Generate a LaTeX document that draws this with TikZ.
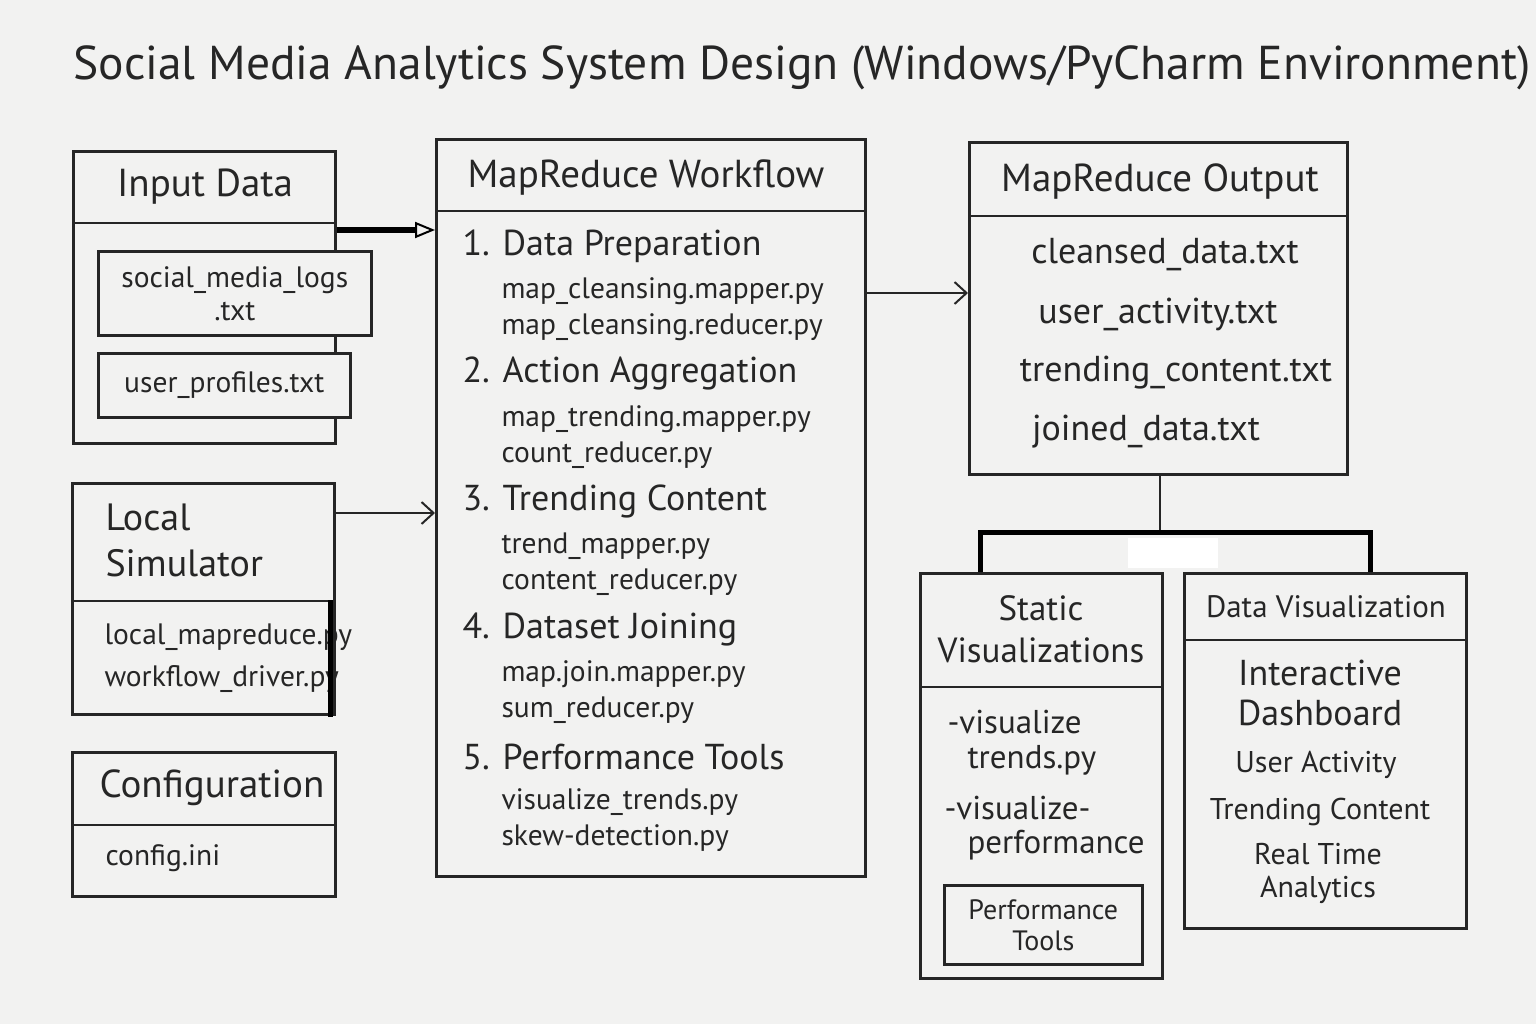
\documentclass[tikz,border=0pt]{standalone}
\usepackage{fontspec}
\setmainfont{PT Sans}
\usetikzlibrary{positioning,arrows.meta}
\definecolor{ink}{HTML}{262626}
\definecolor{paper}{HTML}{F2F2F1}

\begin{document}
\begin{tikzpicture}[
    x=1pt, y=-1pt,
    box/.style={draw=ink, line width=2.6pt, fill=paper, anchor=north west, inner sep=0pt},
    divider/.style={draw=ink, line width=2.6pt},
    titletext/.style={font=\fontsize{47.5}{52}\selectfont, text=ink},
    hdr/.style={font=\fontsize{39}{46}\selectfont, text=ink},
    stephead/.style={font=\fontsize{36}{40}\selectfont, text=ink, anchor=west},
    item/.style={font=\fontsize{29.5}{33}\selectfont, text=ink},
    bigitem/.style={font=\fontsize{36}{40}\selectfont, text=ink},
    arrow/.style={draw=ink, line width=2pt, -{Straight Barb[length=12pt, width=22pt]}},
    bigarrow/.style={draw=black, line width=6pt, -{Triangle[open, length=20pt, width=16pt, line width=2pt]}},
    heavy/.style={draw=black, line width=5pt}
    ]

    \fill[paper] (0,0) rectangle (1536,1024);
    \useasboundingbox (0,0) rectangle (1536,1024);

    % title:
    \node (title) at (802,68) [titletext] {Social Media Analytics System Design (Windows/PyCharm Environment)};

    % input data:
    \node (input) at (72,150) [box, minimum width=262pt, minimum height=292pt] {};
    \draw[divider] ([yshift=-73pt]input.north west) -- ([yshift=-73pt]input.north east);
    \node (inputhdr) at (205,187) [hdr] {Input Data};
    \node (logs) at (97,250) [box, item, align=center, minimum width=273pt, minimum height=84pt] {social\_media\_logs\\.txt};
    \node (profiles) at (97,352) [box, item, minimum width=252pt, minimum height=64pt] {user\_profiles.txt};

    % local simulator:
    \node (sim) at (71,482) [box, minimum width=262pt, minimum height=231pt] {};
    \draw[divider] ([yshift=-119pt]sim.north west) -- ([yshift=-119pt]sim.north east);
    \node (simhdr) at (102,540) [hdr, anchor=west, align=left, font=\fontsize{38}{46}\selectfont] {Local\\Simulator};
    \node (simfiles) at (101,658) [item, anchor=west, align=left, font=\fontsize{29.5}{42}\selectfont] {local\_mapreduce.py\\workflow\_driver.py};
    \draw[heavy] (330,600) -- (330,717);

    % configuration:
    \node (config) at (71,751) [box, minimum width=263pt, minimum height=144pt] {};
    \draw[divider] ([yshift=-74pt]config.north west) -- ([yshift=-74pt]config.north east);
    \node (confighdr) at (212,788) [hdr] {Configuration};
    \node (configfile) at (102,858) [item, anchor=west] {config.ini};

    % mapreduce workflow:
    \node (flow) at (435,138) [box, minimum width=429pt, minimum height=737pt] {};
    \draw[divider] ([yshift=-73pt]flow.north west) -- ([yshift=-73pt]flow.north east);
    \node (flowhdr) at (646,178) [hdr] {MapReduce Workflow};
    \foreach \head/\fa/\fb [count=\i from 0] in {
        Data Preparation/map\_cleansing.mapper.py/map\_cleansing.reducer.py,
        Action Aggregation/map\_trending.mapper.py/count\_reducer.py,
        Trending Content/trend\_mapper.py/content\_reducer.py,
        Dataset Joining/map.join.mapper.py/sum\_reducer.py,
        Performance Tools/visualize\_trends.py/skew-detection.py} {
      \pgfmathtruncatemacro{\n}{\i+1}
      \node (step\n) at (459, 246 + \i * 127.75) [stephead] {\n. \head};
      \node (step\n a) at (498, 291 + \i * 127.75) [item, anchor=west] {\fa};
      \node (step\n b) at (498, 327 + \i * 127.75) [item, anchor=west] {\fb};
    }

    % mapreduce output:
    \node (out) at (968,141) [box, minimum width=378pt, minimum height=332pt] {};
    \draw[divider] ([yshift=-75pt]out.north west) -- ([yshift=-75pt]out.north east);
    \node (outhdr) at (1160,182) [hdr] {MapReduce Output};
    \foreach \x/\y/\f [count=\i] in {1165/255/cleansed\_data.txt, 1158/314/user\_activity.txt,
        1176/373/trending\_content.txt, 1146/432/joined\_data.txt}
      \node (o\i) at (\x,\y) [bigitem] {\f};

    % static visualizations:
    \node (static) at (919,572) [box, minimum width=242pt, minimum height=405pt] {};
    \draw[divider] ([yshift=-115pt]static.north west) -- ([yshift=-115pt]static.north east);
    \node (statichdr) at (1041,629) [hdr, align=center, font=\fontsize{35}{42}\selectfont] {Static\\Visualizations};
    \foreach \x/\y/\t [count=\i] in {944/722/-visualize, 964/760/trends.py, 941/808/-visualize-, 964/845/performance}
      \node (s\i) at (\x,\y) [bigitem, anchor=west, font=\fontsize{33}{38}\selectfont] {\t};
    \node (perf) at (943,884) [box, item, align=center, minimum width=198pt, minimum height=79pt,
        font=\fontsize{28}{31}\selectfont] {Performance\\Tools};

    % data visualization:
    \node (dviz) at (1183,572) [box, minimum width=282pt, minimum height=355pt] {};
    \draw[divider] ([yshift=-68pt]dviz.north west) -- ([yshift=-68pt]dviz.north east);
    \node (dvizhdr) at (1326,607) [hdr, font=\fontsize{31}{36}\selectfont] {Data Visualization};
    \node (dash) at (1320,693) [hdr, align=center, font=\fontsize{36}{40}\selectfont] {Interactive\\Dashboard};
    \node (useract) at (1316,765) [item, font=\fontsize{30}{33}\selectfont] {User Activity};
    \node (trendc) at (1320,812) [item, font=\fontsize{30}{33}\selectfont] {Trending Content};
    \node (realtime) at (1318,873) [item, align=center, font=\fontsize{30}{33}\selectfont] {Real Time\\Analytics};

    % connections
    \draw[bigarrow] ([yshift=-80pt]input.north east) -- ([yshift=-80pt]input.north east -| flow.west);
    \draw[arrow] ([yshift=-31pt]sim.north east) -- ([yshift=-31pt]sim.north east -| flow.west);
    \draw[arrow] ([yshift=-155pt]flow.north east) -- ([yshift=-155pt]flow.north east -| out.west);

    \coordinate (fork) at (1160,532);
    \coordinate (left) at (980,532);
    \coordinate (right) at (1370,532);
    \draw[draw=ink, line width=2pt] (out.south -| fork) -- (fork);
    \draw[heavy] (left |- static.north) -- (left) -- (right) -- (right |- dviz.north);
    \fill[white] (1128,538) rectangle (1218,568);

  \end{tikzpicture}
\end{document}
